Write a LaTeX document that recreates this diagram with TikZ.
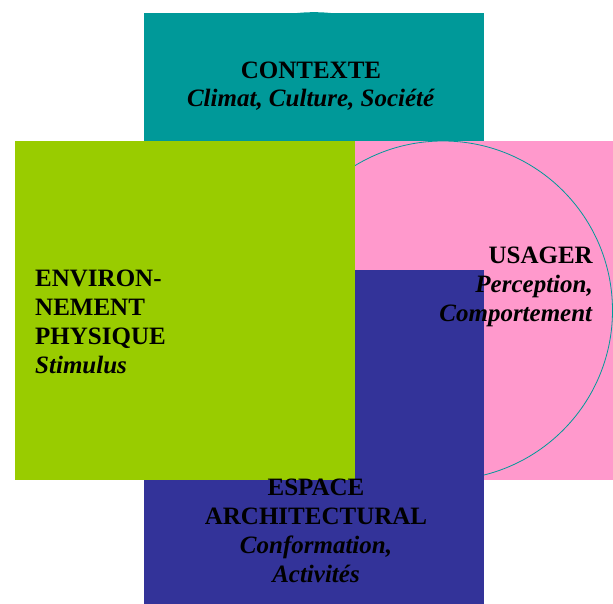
\documentclass[tikz,border=0pt]{standalone}
\usepackage{fontspec}
\setmainfont{Liberation Serif}
\definecolor{cteal}{HTML}{009999}
\definecolor{cgreen}{HTML}{99CC00}
\definecolor{cpink}{HTML}{FF99CC}
\definecolor{cblue}{HTML}{333399}
\tikzset{
  blocktext/.style={inner sep=0pt, font={\fontsize{25}{28.8}\selectfont\bfseries}, text=black},
  panel/.style={draw=none}
}
\begin{document}
\begin{tikzpicture}[x=1pt,y=-1pt]
\useasboundingbox (0,0) rectangle (613,604);
% hidden circles behind panels (tiny bumps visible)
\fill[cteal] (314,182.6) circle (170.4);
\fill[cgreen] (185,311.2) circle (169.8);
% panels
\fill[panel,cteal] (144,13) rectangle (484,141);
\fill[panel,cpink] (355,141) rectangle (613,480);
\draw[cteal, line width=0.8pt] (443,310.5) circle (169.5);
\fill[panel,cblue] (144,270) rectangle (484,604);
\fill[panel,cgreen] (15,141) rectangle (355,480);
% texts (base anchor = baseline of last line)
\node[blocktext, anchor=base, align=center] (contexte) at (311,107)
  {CONTEXTE\\\textit{Climat, Culture, Société}};
\node[blocktext, anchor=base east, align=right] (usager) at (593,321)
  {USAGER\\\textit{Perception,}\\\textit{Comportement}};
\node[blocktext, anchor=base west, align=left] (envir) at (35,373)
  {ENVIRON-\\NEMENT\\PHYSIQUE\\\textit{Stimulus}};
\node[blocktext, anchor=base, align=center] (espace) at (316,582)
  {ESPACE\\ARCHITECTURAL\\\textit{Conformation,}\\\textit{Activités}};
\end{tikzpicture}
\end{document}
